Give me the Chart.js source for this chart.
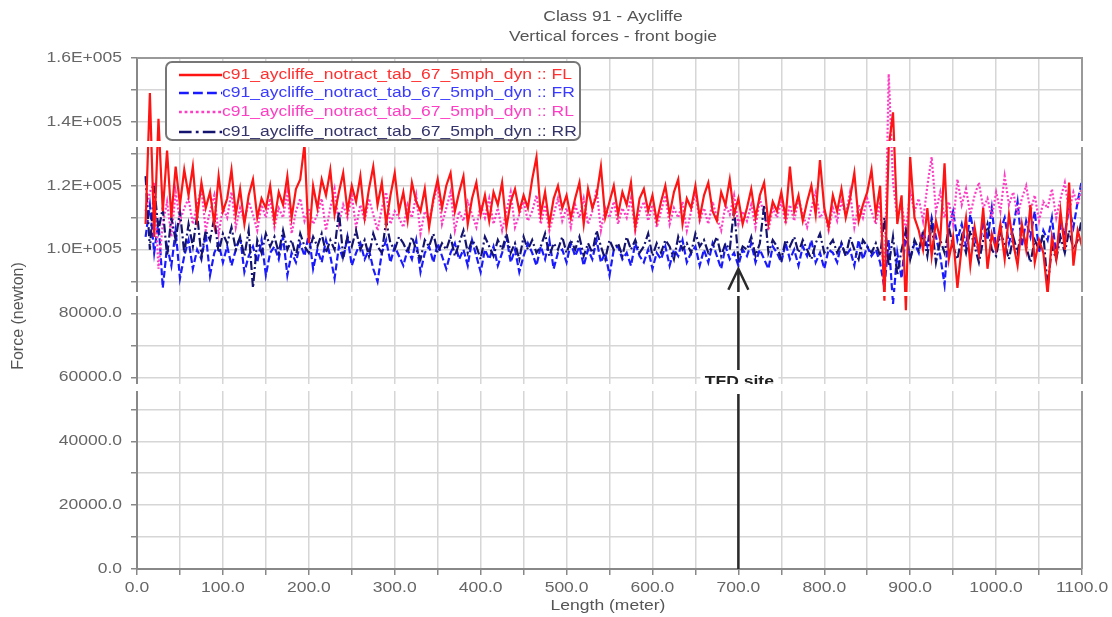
<!DOCTYPE html>
<html lang="en">
<head>
<meta charset="UTF-8">
<title>Class 91 - Aycliffe</title>
<script src="https://cdn.jsdelivr.net/npm/chart.js"></script>
<style>
  body { margin: 0; background: #fff; }
  #wrap { width: 1112px; height: 617px; }
</style>
</head>
<body>
<div id="wrap"><canvas id="grafico" width="1112" height="617"></canvas></div>
<script>
// distance along the track (m)
var lengths = [
  10,15,20,25,30,35,40,45,50,55,60,65,70,75,80,85,90,95,100,105,
  110,115,120,125,130,135,140,145,150,155,160,165,170,175,180,185,190,195,200,205,
  210,215,220,225,230,235,240,245,250,255,260,265,270,275,280,285,290,295,300,305,
  310,315,320,325,330,335,340,345,350,355,360,365,370,375,380,385,390,395,400,405,
  410,415,420,425,430,435,440,445,450,455,460,465,470,475,480,485,490,495,500,505,
  510,515,520,525,530,535,540,545,550,555,560,565,570,575,580,585,590,595,600,605,
  610,615,620,625,630,635,640,645,650,655,660,665,670,675,680,685,690,695,700,705,
  710,715,720,725,730,735,740,745,750,755,760,765,770,775,780,785,790,795,800,805,
  810,815,820,825,830,835,840,845,850,855,860,865,870,875,880,885,890,895,900,905,
  910,915,920,925,930,935,940,945,950,955,960,965,970,975,980,985,990,995,1000,1005,
  1010,1015,1020,1025,1030,1035,1040,1045,1050,1055,1060,1065,1070,1075,1080,1085,1090,1095,1100
];

// vertical wheel forces, in kN
var fl = [
  108,149,104,141,112,131,110,126,114,125,117,126,110,121,113,118,108,123,112,116,
  125,111,119,108,117,122,110,116,113,120,109,118,114,123,110,119,122,133,102,120,
  113,122,117,125,111,118,124,112,120,115,123,110,119,126,114,121,108,117,124,112,
  118,109,121,115,112,119,107,116,122,113,120,124,112,118,123,108,116,121,111,117,
  109,118,114,121,107,115,119,112,117,113,122,129,111,118,108,116,120,113,117,110,
  116,121,108,119,113,117,126,110,115,120,111,118,114,121,107,116,119,112,117,109,
  115,120,111,118,122,108,116,113,120,110,117,121,112,109,118,114,122,111,116,108,
  113,119,110,117,121,108,115,112,118,110,126,112,117,109,115,120,111,128,113,107,
  117,112,119,110,116,124,109,114,118,125,111,120,84,132,143,108,117,81,129,110,
  106,100,113,98,109,103,127,97,104,88,101,110,95,107,99,113,94,105,100,108,
  97,111,102,95,108,100,114,96,103,99,86,104,97,112,100,121,95,106,101
];
var fr = [
  104,114,99,109,88,101,95,106,91,98,103,94,100,97,105,92,99,102,96,101,
  95,100,104,93,98,101,96,103,92,99,101,97,104,92,99,96,102,98,105,94,
  100,96,103,98,91,101,97,104,95,99,102,97,100,94,90,99,103,96,101,98,
  95,100,97,103,93,99,101,96,102,98,94,99,102,97,100,95,103,98,93,100,
  97,101,95,99,104,96,100,93,98,102,99,95,101,97,103,94,99,100,96,102,
  98,101,95,100,97,103,96,99,92,100,101,97,99,95,102,98,96,100,94,99,
  97,101,95,100,98,103,96,99,101,95,100,96,102,98,94,101,97,99,95,100,
  98,102,96,100,97,94,101,99,96,102,97,100,95,101,98,103,96,99,94,100,
  99,96,102,98,100,95,103,97,101,98,100,96,88,103,83,99,91,105,97,102,
  99,106,101,110,104,98,89,107,112,103,108,101,111,104,99,109,103,113,100,106,
  110,102,107,115,101,109,104,112,99,106,103,110,98,108,105,113,107,115,122
];
var rl = [
  112,118,121,94,108,115,104,118,109,113,116,108,114,119,106,112,117,105,113,110,
  118,107,113,109,115,111,106,114,110,116,107,113,110,118,105,112,116,109,113,108,
  111,116,106,113,119,108,114,110,117,107,114,109,116,111,106,113,118,108,112,110,
  107,114,110,117,105,112,109,115,120,108,113,118,106,112,109,115,111,107,114,110,
  116,108,113,106,112,118,107,111,115,109,112,117,108,114,106,111,116,109,113,107,
  114,110,116,108,112,119,106,113,110,115,108,113,110,116,106,112,115,109,114,107,
  112,117,108,113,110,115,106,112,118,109,113,108,115,110,106,114,111,117,108,112,
  109,114,107,116,111,106,113,110,115,108,114,109,116,111,107,113,118,110,112,106,
  113,109,115,111,118,107,114,110,116,112,108,115,86,155,121,110,114,106,118,112,
  116,109,120,129,112,118,110,115,108,122,114,119,111,117,121,113,116,110,118,112,
  123,114,118,111,116,120,112,117,109,115,113,119,110,116,121,112,118,114,120
];
var rr = [
  123,100,120,106,113,98,110,103,112,99,108,101,111,98,106,103,110,99,105,102,
  107,100,104,98,106,88,103,99,105,101,104,99,106,100,103,98,105,101,99,104,
  101,105,99,103,100,112,98,104,101,106,100,103,98,105,101,99,109,102,100,104,
  102,99,104,100,97,103,101,105,99,102,100,104,98,102,106,99,103,101,97,104,
  101,98,103,100,105,99,102,97,104,100,103,99,101,105,98,102,100,104,99,103,
  100,104,98,102,99,106,101,97,103,100,102,98,104,100,103,99,101,105,98,102,
  99,103,101,97,104,100,102,99,105,101,103,99,101,104,98,102,100,113,97,101,
  100,104,98,102,114,99,103,101,97,103,101,104,99,103,100,97,102,105,99,101,
  103,99,102,98,104,100,97,103,101,99,102,98,110,95,104,92,100,106,97,103,
  100,105,98,108,96,103,99,107,101,97,104,99,106,101,96,103,108,100,98,105,
  102,97,104,99,107,101,96,103,100,105,88,101,97,104,99,106,100,103,110
];

var seriesNames = [
  'c91_aycliffe_notract_tab_67_5mph_dyn :: FL',
  'c91_aycliffe_notract_tab_67_5mph_dyn :: FR',
  'c91_aycliffe_notract_tab_67_5mph_dyn :: RL',
  'c91_aycliffe_notract_tab_67_5mph_dyn :: RR'
];
var titleLines = ['Class 91 - Aycliffe', 'Vertical forces - front bogie'];
var tfdLength = 700;   // TFD site marker (m)
var tfdForce = 94;     // arrow tip (kN)

var fuente = '"Liberation Sans", Arial, sans-serif';
var estirar = 1.25;    // the original picture is stretched sideways

function puntos(valores) {
  return lengths.map(function (x, i) { return { x: x, y: valores[i] }; });
}

function texto(ctx, t, x, y, align, font, color) {
  ctx.save();
  ctx.font = font;
  ctx.fillStyle = color;
  ctx.textAlign = align;
  ctx.textBaseline = 'middle';
  ctx.translate(x, y);
  ctx.scale(estirar, 1);
  ctx.fillText(t, 0, 0);
  ctx.restore();
}

function etiquetaFuerza(v) {
  if (v >= 100) return (v / 100).toFixed(1) + 'E+005';
  return (v * 1000).toFixed(1);
}

var estilos = [
  { color: '#ff1414', dash: [], texto: '#ff3030' },
  { color: '#1a1aff', dash: [7, 3], texto: '#3a3aff' },
  { color: '#ff3cc4', dash: [2, 2], texto: '#ff3cc4' },
  { color: '#141470', dash: [9, 3, 2, 3], texto: '#33336a' }
];

var dibujo = {
  id: 'dibujo',
  afterDatasetsDraw: function (chart) {
    var ctx = chart.ctx, a = chart.chartArea;
    var xs = chart.scales.x, ys = chart.scales.y;

    // top and right frame
    ctx.save();
    ctx.strokeStyle = '#999';
    ctx.lineWidth = 2;
    ctx.beginPath();
    ctx.moveTo(a.left, a.top); ctx.lineTo(a.right, a.top); ctx.lineTo(a.right, a.bottom);
    ctx.stroke();
    ctx.restore();

    // TFD site arrow
    var ax = xs.getPixelForValue(tfdLength);
    var ay = ys.getPixelForValue(tfdForce);
    ctx.save();
    ctx.strokeStyle = '#2a2a2a';
    ctx.lineWidth = 2.5;
    ctx.beginPath();
    ctx.moveTo(ax, a.bottom); ctx.lineTo(ax, ay);
    ctx.moveTo(ax - 10, ay + 21); ctx.lineTo(ax, ay); ctx.lineTo(ax + 10, ay + 21);
    ctx.stroke();
    ctx.fillStyle = '#fff';
    ctx.fillRect(ax - 38, 370, 78, 24);
    ctx.restore();
    texto(ctx, 'TFD site', ax + 1, 382, 'center', 'bold 14px ' + fuente, '#222');

    // legend box
    ctx.save();
    ctx.fillStyle = '#fff';
    ctx.strokeStyle = '#777';
    ctx.lineWidth = 2;
    ctx.beginPath();
    ctx.roundRect(166, 62, 414, 78, 6);
    ctx.fill();
    ctx.stroke();
    ctx.restore();
    var filas = [75, 93, 112, 132];
    chart.data.datasets.forEach(function (ds, i) {
      var y = filas[i];
      ctx.save();
      ctx.strokeStyle = estilos[i].color;
      ctx.lineWidth = 2.5;
      ctx.setLineDash(estilos[i].dash.map(function (d) { return d * 1.4; }));
      ctx.beginPath();
      ctx.moveTo(179, y); ctx.lineTo(222, y);
      ctx.stroke();
      ctx.restore();
      texto(ctx, ds.label, 222, y, 'left', '14px ' + fuente, estilos[i].texto);
    });
  },
  afterDraw: function (chart) {
    var ctx = chart.ctx;
    var xs = chart.scales.x, ys = chart.scales.y;

    // white seams that run across the original picture
    ctx.save();
    ctx.fillStyle = '#fff';
    ctx.fillRect(128, 141, 960, 6);
    ctx.fillRect(128, 292, 960, 4);
    ctx.fillRect(128, 384, 960, 7);
    ctx.restore();

    // tick labels
    ys.ticks.forEach(function (t) {
      if (t.value % 20 !== 0) return;
      texto(ctx, etiquetaFuerza(t.value), 122, ys.getPixelForValue(t.value), 'right', '14px ' + fuente, '#666');
    });
    xs.ticks.forEach(function (t) {
      if (t.value % 100 !== 0) return;
      texto(ctx, t.value.toFixed(1), xs.getPixelForValue(t.value), 588, 'center', '14px ' + fuente, '#666');
    });

    // titles
    texto(ctx, titleLines[0], 613, 17, 'center', '14px ' + fuente, '#555');
    texto(ctx, titleLines[1], 613, 37, 'center', '14px ' + fuente, '#555');
    texto(ctx, 'Length (meter)', 608, 606, 'center', '14px ' + fuente, '#555');
    ctx.save();
    ctx.translate(19, 316);
    ctx.rotate(-Math.PI / 2);
    ctx.font = '16px ' + fuente;
    ctx.fillStyle = '#555';
    ctx.textAlign = 'center';
    ctx.textBaseline = 'middle';
    ctx.fillText('Force (newton)', 0, 0);
    ctx.restore();
  }
};

var ctx = document.getElementById('grafico').getContext('2d');
var valores = [fl, fr, rl, rr];
var ordenes = [1, 4, 3, 2];
var myChart = new Chart(ctx, {
  type: 'line',
  data: {
    datasets: valores.map(function (v, i) {
      return {
        label: seriesNames[i],
        data: puntos(v),
        borderColor: estilos[i].color,
        borderDash: estilos[i].dash,
        borderWidth: 2.2,
        pointRadius: 0,
        tension: 0,
        fill: false,
        order: ordenes[i]
      };
    })
  },
  options: {
    responsive: false,
    animation: false,
    layout: { padding: { top: 58, right: 30, left: 0, bottom: 0 } },
    plugins: { legend: { display: false }, title: { display: false }, tooltip: { enabled: false } },
    scales: {
      x: {
        type: 'linear',
        min: 0,
        max: 1100,
        afterFit: function (s) { s.height = 48; },
        ticks: { display: false, stepSize: 50, autoSkip: false },
        grid: { color: '#d6d6d6', lineWidth: 1.5, tickLength: 6, tickColor: '#888' },
        border: { color: '#888', width: 2 }
      },
      y: {
        min: 0,
        max: 160,
        afterFit: function (s) { s.width = 137; },
        ticks: { display: false, stepSize: 10, autoSkip: false },
        grid: { color: '#d6d6d6', lineWidth: 1.5, tickLength: 6, tickColor: '#888' },
        border: { color: '#888', width: 2 }
      }
    }
  },
  plugins: [dibujo]
});
</script>
</body>
</html>
